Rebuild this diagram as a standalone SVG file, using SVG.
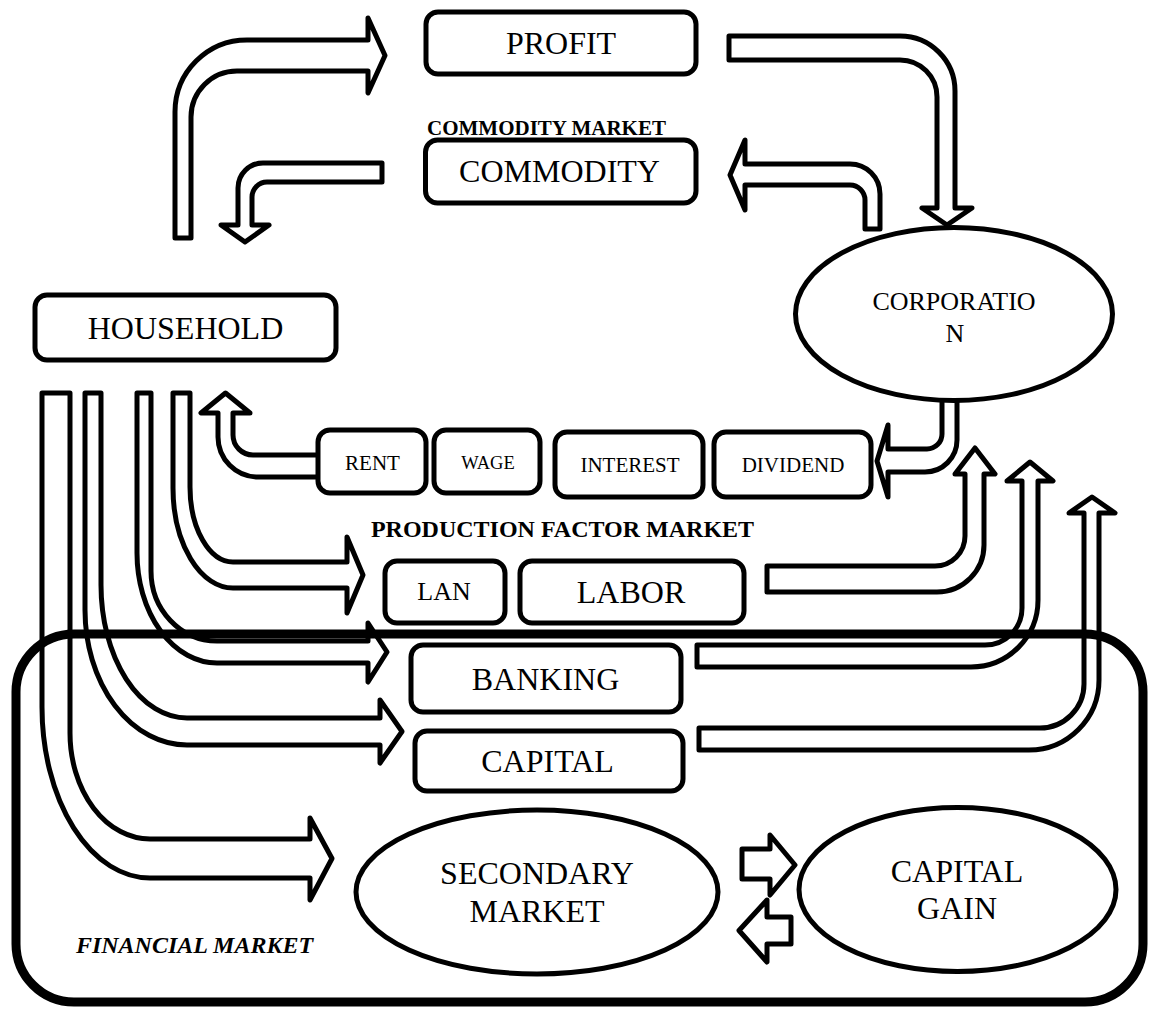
<svg xmlns="http://www.w3.org/2000/svg" width="1151" height="1009" viewBox="0 0 1151 1009">
  <style>
    .box { fill: #fff; stroke: #000; stroke-width: 5; }
    .ell { fill: #fff; stroke: #000; stroke-width: 5; }
    .arr { fill: #fff; stroke: #000; stroke-width: 5; stroke-linejoin: round; }
    .frame { fill: none; stroke: #000; stroke-width: 9; }
    text { font-family: "Liberation Serif", "Times New Roman", serif; fill: #000; text-anchor: middle; }
    .big { font-size: 32px; }
    .mid { font-size: 26px; }
    .small { font-size: 21px; }
    .title { font-weight: bold; }
  </style>
  <rect width="1151" height="1009" fill="#fff"/>

  <!-- block arrows -->
  <g id="connectors">
    <!-- household up to profit -->
    <path class="arr" d="M175,238 L175,112 A72,72 0 0 1 247,40 L368,40 L368,18 L385,55.5 L368,93 L368,71 L237,71 A46,46 0 0 0 191,117 L191,238 Z"/>
    <!-- commodity down to household -->
    <path class="arr" d="M382,163 L263,163 A25,25 0 0 0 238,188 L238,225 L221,225 L245,242 L269,225 L252,225 L252,197 A15,15 0 0 1 267,182 L382,182 Z"/>
    <!-- profit down to corporation -->
    <path class="arr" d="M729,36 L900,36 A55,55 0 0 1 955,91 L955,208 L972,208 L947,225 L922,208 L937,208 L937,97 A37,37 0 0 0 900,60 L729,60 Z"/>
    <!-- corporation to commodity -->
    <path class="arr" d="M880,229 L880,194 A30,30 0 0 0 850,164 L745,164 L745,140 L730,175 L745,210 L745,185 L850,185 A15,15 0 0 1 865,200 L865,229 Z"/>
    <!-- corporation to dividend -->
    <path class="arr" d="M957,395 L957,440 A32,32 0 0 1 925,472 L888,472 L888,497 L877,461 L888,425 L888,449 L927,449 A15,15 0 0 0 942,434 L942,395 Z"/>
    <!-- rent back to household -->
    <path class="arr" d="M320,455 L253,455 A20,20 0 0 1 233,435 L233,413 L250,413 L225.5,393 L201,413 L218,413 L218,437 A40,40 0 0 0 258,477 L320,477 Z"/>
    <!-- labor up to corporation -->
    <path class="arr" d="M767,566 L935,566 A30,30 0 0 0 965,536 L965,474 L955,474 L975,448 L995,474 L984,474 L984,545 A47,47 0 0 1 937,592 L767,592 Z"/>
    <!-- banking up to corporation -->
    <path class="arr" d="M697,645 L985,645 A37,37 0 0 0 1022,608 L1022,481 L1007,481 L1030,462 L1053,481 L1038,481 L1038,600 A67,67 0 0 1 971,667 L697,667 Z"/>
    <!-- capital up to corporation -->
    <path class="arr" d="M699,728 L1040,728 A44,44 0 0 0 1084,684 L1084,513 L1069,513 L1092,497 L1115,513 L1099,513 L1099,680 A70,70 0 0 1 1029,750 L699,750 Z"/>
    <!-- household down to land -->
    <path class="arr" d="M173,393 L190,393 L190,487 A43,75 0 0 0 233,562 L347,562 L347,537 L363,575 L347,613 L347,588 L233,588 A60,100 0 0 1 173,488 Z"/>
    <!-- household down to banking -->
    <path class="arr" d="M137,393 L151,393 L151,571 A66,70 0 0 0 217,641 L368,641 L368,623 L387,652 L368,682 L368,663 L217,663 A80,110 0 0 1 137,553 Z"/>
    <!-- household down to capital -->
    <path class="arr" d="M85,393 L101,393 L101,585 A86,133 0 0 0 187,718 L380,718 L380,700 L402,731.5 L380,763 L380,745 L187,745 A102,135 0 0 1 85,610 Z"/>
    <!-- household down to secondary market -->
    <path class="arr" d="M42,393 L70,393 L70,733 A80,106 0 0 0 150,839 L310,839 L310,818 L332,858.5 L310,900 L310,878 L150,878 A108,171 0 0 1 42,707 Z"/>
    <!-- secondary market <-> capital gain -->
    <path class="arr" d="M742,849 L770,849 L770,835 L795,865 L770,895 L770,879 L742,879 Z"/>
    <path class="arr" d="M791,917 L767,917 L767,900 L739,930.5 L767,962 L767,944 L791,944 Z"/>
  </g>

  <g id="profit">
    <rect class="box" x="426" y="12" width="270" height="62" rx="12"/>
    <text class="big" x="561" y="54">PROFIT</text>
  </g>

  <g id="commodity-market">
    <text class="title" x="546.5" y="135" font-size="21">COMMODITY MARKET</text>
  </g>

  <g id="commodity">
    <rect class="box" x="425.5" y="140" width="270.5" height="63" rx="12"/>
    <text class="big" x="559.5" y="182">COMMODITY</text>
  </g>

  <g id="household">
    <rect class="box" x="35" y="295" width="301" height="65" rx="12"/>
    <text class="big" x="185.5" y="339">HOUSEHOLD</text>
  </g>

  <g id="corporation">
    <ellipse class="ell" cx="954" cy="314" rx="158.5" ry="86.5"/>
    <text class="mid" x="954" y="310">CORPORATIO</text>
    <text class="mid" x="955" y="342">N</text>
  </g>

  <g id="rent">
    <rect class="box" x="318" y="430" width="108" height="63" rx="12"/>
    <text class="small" x="372.5" y="470">RENT</text>
  </g>
  <g id="wage">
    <rect class="box" x="434" y="430" width="106" height="63" rx="12"/>
    <text x="488" y="469" font-size="18.5">WAGE</text>
  </g>
  <g id="interest">
    <rect class="box" x="555" y="432" width="148" height="65" rx="12"/>
    <text class="small" x="630" y="472">INTEREST</text>
  </g>
  <g id="dividend">
    <rect class="box" x="714" y="432" width="157" height="65" rx="12"/>
    <text class="small" x="793" y="472">DIVIDEND</text>
  </g>

  <g id="production-factor-market">
    <text class="title" x="562.5" y="537" font-size="24">PRODUCTION FACTOR MARKET</text>
  </g>

  <g id="land">
    <rect class="box" x="385" y="561" width="120" height="62" rx="12"/>
    <text class="mid" x="444" y="600">LAN</text>
  </g>
  <g id="labor">
    <rect class="box" x="520" y="561" width="224" height="62" rx="12"/>
    <text class="big" x="631" y="603">LABOR</text>
  </g>
  <g id="banking">
    <rect class="box" x="411" y="645" width="270" height="67" rx="12"/>
    <text class="big" x="545.5" y="690">BANKING</text>
  </g>
  <g id="capital">
    <rect class="box" x="415" y="731" width="268" height="60" rx="12"/>
    <text class="big" x="547.5" y="772">CAPITAL</text>
  </g>

  <g id="secondary-market">
    <ellipse class="ell" cx="537" cy="892" rx="181" ry="82"/>
    <text class="big" x="537" y="884">SECONDARY</text>
    <text class="big" x="537" y="922">MARKET</text>
  </g>

  <g id="capital-gain">
    <ellipse class="ell" cx="957.5" cy="889.5" rx="158.5" ry="82"/>
    <text class="big" x="957" y="882">CAPITAL</text>
    <text class="big" x="957" y="919">GAIN</text>
  </g>

  <g id="financial-market">
    <rect class="frame" x="16" y="634" width="1127" height="368" rx="58"/>
    <text x="194.5" y="953" font-size="24" font-weight="bold" font-style="italic">FINANCIAL MARKET</text>
  </g>
</svg>
